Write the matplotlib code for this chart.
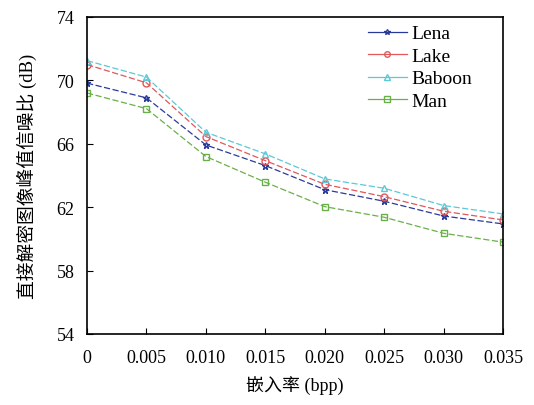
import matplotlib
matplotlib.use("Agg")
import matplotlib.pyplot as plt
from matplotlib.lines import Line2D

plt.rcParams['font.family'] = ['Liberation Serif', 'Noto Sans CJK SC']

rate = [0, 0.005, 0.010, 0.015, 0.020, 0.025, 0.030, 0.035]
rate_labels = ["0", "0.005", "0.010", "0.015", "0.020", "0.025", "0.030", "0.035"]

lena = [69.82, 68.89, 65.92, 64.62, 63.10, 62.37, 61.44, 60.94]
lake = [70.99, 69.84, 66.45, 64.93, 63.44, 62.66, 61.74, 61.19]
baboon = [71.24, 70.20, 66.72, 65.36, 63.78, 63.19, 62.10, 61.57]
man = [69.20, 68.21, 65.19, 63.57, 62.03, 61.36, 60.35, 59.79]

series = [("Lena", lena, "#2a3a9a", "*"),
          ("Lake", lake, "#e0585a", "o"),
          ("Baboon", baboon, "#5cc8d8", "^"),
          ("Man", man, "#6ab04a", "s")]

fig = plt.figure(figsize=(5.34, 4.06), dpi=100)
ax = fig.add_axes([0.163, 0.175, 0.779, 0.781])

handles = []
for name, vals, col, mk in series:
    ax.plot(rate, vals, color=col, linestyle=(0, (5, 2)), linewidth=0.9,
            marker=mk, markersize=5, markerfacecolor='none', markeredgecolor=col)
    handles.append(Line2D([], [], color=col, linewidth=0.9, marker=mk,
                          markersize=4, markerfacecolor='none', markeredgecolor=col))

ax.set_xlim(0, 0.035)
ax.set_ylim(54, 74)
ax.set_xticks(rate)
ax.set_xticklabels(rate_labels)
ax.set_yticks([54, 58, 62, 66, 70, 74])
ax.tick_params(direction='in', labelsize=13, length=4)
ax.tick_params(axis='x', pad=11)
ax.tick_params(axis='y', pad=9)
for s in ax.spines.values():
    s.set_linewidth(1.2)

ax.set_xlabel("嵌入率 (bpp)", fontsize=13, labelpad=6)
ax.set_ylabel("直接解密图像峰值信噪比 (dB)", fontsize=13.5, labelpad=14)

ax.legend(handles, [s[0] for s in series], loc='upper left', frameon=False,
          fontsize=14, handlelength=2.0, handletextpad=0.25, labelspacing=0.25,
          borderpad=0, borderaxespad=0, bbox_to_anchor=(0.675, 0.975))

fig.savefig("out.png", dpi=100)
